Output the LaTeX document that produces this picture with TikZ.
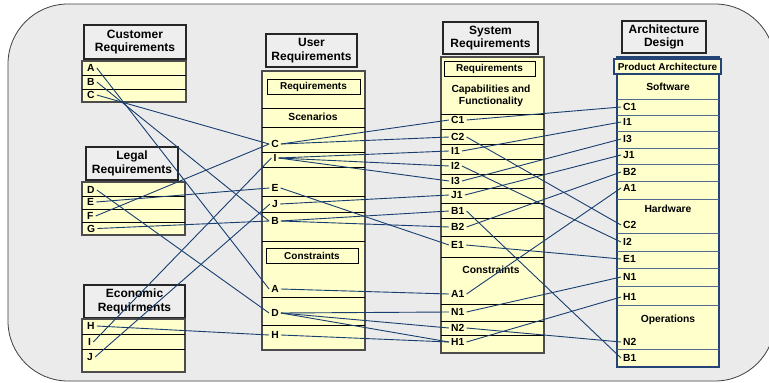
\documentclass[tikz,border=0pt]{standalone}
\usepackage{fontspec}
\setmainfont{Liberation Sans}
\definecolor{bggray}{RGB}{235,235,235}
\definecolor{hdrgray}{RGB}{238,238,238}
\definecolor{tblfill}{RGB}{255,255,204}
\definecolor{linkblue}{RGB}{24,62,112}
\definecolor{archblue}{RGB}{36,68,118}
\begin{document}
\begin{tikzpicture}[x=1pt,y=-1pt,
  hdr/.style={draw=black!85, fill=hdrgray, line width=1.1pt, align=center,
    font=\bfseries\fontsize{12}{13.5}\selectfont, inner sep=0pt},
  tbl/.style={draw=black!70, fill=tblfill, line width=1.4pt},
  archtbl/.style={draw=archblue, fill=tblfill, line width=1.3pt},
  rowline/.style={draw=black, line width=0.9pt},
  archrow/.style={draw=archblue!80, line width=0.9pt},
  inbox/.style={draw=black, fill=tblfill, line width=1pt, inner sep=0pt,
    font=\bfseries\fontsize{10}{11}\selectfont},
  sect/.style={font=\bfseries\fontsize{10.3}{12}\selectfont, align=center},
  lbl/.style={font=\bfseries\fontsize{10.3}{11}\selectfont, inner sep=2pt},
  link/.style={draw=linkblue, line width=0.9pt}]
\useasboundingbox (0,0) rectangle (769,383);

% background panel
\draw[fill=bggray, draw=black!75, line width=0.8pt, rounded corners=60pt] (8,4) rectangle (775,381);

% ---------------- Customer requirements
\node[hdr, minimum width=102pt, minimum height=34pt] (hcust) at (135,42) {Customer\\Requirements};
\draw[tbl] (82,61) rectangle (186,102);
\foreach \y in {75,89} \draw[rowline] (82,\y) -- (186,\y);
\node[lbl, anchor=west] (cA) at (85,68) {A};
\node[lbl, anchor=west] (cB) at (85,82) {B};
\node[lbl, anchor=west] (cC) at (85,95) {C};

% ---------------- Legal requirements
\node[hdr, minimum width=92pt, minimum height=33pt] (hlegal) at (132,163.5) {Legal\\Requirements};
\draw[tbl] (82,182) rectangle (185,235);
\foreach \y in {196,209,222} \draw[rowline] (82,\y) -- (185,\y);
\node[lbl, anchor=west] (lD) at (85,190) {D};
\node[lbl, anchor=west] (lE) at (85,202) {E};
\node[lbl, anchor=west] (lF) at (85,216) {F};
\node[lbl, anchor=west] (lG) at (85,228.5) {G};

% ---------------- Economic requirements
\node[hdr, minimum width=101pt, minimum height=33pt] (hecon) at (134.5,301.5) {Economic\\Requirments};
\draw[tbl] (82,319) rectangle (185,372);
\foreach \y in {334,349} \draw[rowline] (82,\y) -- (185,\y);
\node[lbl, anchor=west] (eH) at (85,326) {H};
\node[lbl, anchor=west] (eI) at (86,342) {I};
\node[lbl, anchor=west] (eJ) at (85,357) {J};

% ---------------- User requirements
\node[hdr, minimum width=91pt, minimum height=33pt] (huser) at (311.5,50.5) {User\\Requirements};
\draw[tbl] (262,71) rectangle (365,350);
\foreach \y in {108,127,152,167,196,212,241,297,325} \draw[rowline] (262,\y) -- (365,\y);
\node[inbox, minimum width=93pt, minimum height=15pt] (ureq) at (313.5,86.5) {Requirements};
\node[sect] (uscen) at (313,117) {Scenarios};
\node[inbox, minimum width=92pt, minimum height=15pt] (ucons) at (312,255.5) {Constraints};
\node[lbl] (uC) at (275,144) {C};
\node[lbl] (uI) at (275,158) {I};
\node[lbl] (uE) at (275,188) {E};
\node[lbl] (uJ) at (275,204) {J};
\node[lbl] (uB) at (275,221) {B};
\node[lbl] (uA) at (275,289) {A};
\node[lbl] (uD) at (275,313) {D};
\node[lbl] (uH) at (275,335) {H};

% ---------------- System requirements
\node[hdr, minimum width=95pt, minimum height=32pt] (hsys) at (490.5,38) {System\\Requirements};
\draw[tbl] (441,57) rectangle (544,353);
\foreach \y in {114,129,144,159,174,188,203,218,236,257,304,321,335} \draw[rowline] (441,\y) -- (544,\y);
\node[inbox, minimum width=91pt, minimum height=15pt] (sreq) at (489.5,68.5) {Requirements};
\node[sect] (scap) at (491,96) {Capabilities and\\Functionality};
\node[sect] (scons) at (491,270) {Constraints};
\node[lbl, anchor=west] (sC1) at (449,120) {C1};
\node[lbl, anchor=west] (sC2) at (449,137) {C2};
\node[lbl, anchor=west] (sI1) at (449,151) {I1};
\node[lbl, anchor=west] (sI2) at (449,166) {I2};
\node[lbl, anchor=west] (sI3) at (449,181) {I3};
\node[lbl, anchor=west] (sJ1) at (449,195) {J1};
\node[lbl, anchor=west] (sB1) at (449,211) {B1};
\node[lbl, anchor=west] (sB2) at (449,227) {B2};
\node[lbl, anchor=west] (sE1) at (449,245) {E1};
\node[lbl, anchor=west] (sA1) at (449,294) {A1};
\node[lbl, anchor=west] (sN1) at (449,312) {N1};
\node[lbl, anchor=west] (sN2) at (449,328) {N2};
\node[lbl, anchor=west] (sH1) at (449,342) {H1};

% ---------------- Architecture design
\node[hdr, minimum width=84pt, minimum height=32pt] (harch) at (664,37) {Architecture\\Design};
\draw[archtbl] (617,57) rectangle (719,367);
\foreach \y in {99,115,131,148,164,181,199,233,251,268,286,305,349} \draw[archrow] (617,\y) -- (719,\y);
\node[draw=archblue, fill=tblfill, line width=1.1pt, inner sep=0pt,
  font=\bfseries\fontsize{10}{11}\selectfont, minimum width=107pt, minimum height=15pt]
  (aprod) at (667.5,66.5) {Product Architecture};
\node[sect] (asoft) at (668,87) {Software};
\node[sect] (ahard) at (668,209) {Hardware};
\node[sect] (aops) at (668,320) {Operations};
\node[lbl, anchor=west] (aC1) at (621,107) {C1};
\node[lbl, anchor=west] (aI1) at (621,122) {I1};
\node[lbl, anchor=west] (aI3) at (621,139) {I3};
\node[lbl, anchor=west] (aJ1) at (621,155) {J1};
\node[lbl, anchor=west] (aB2) at (621,172) {B2};
\node[lbl, anchor=west] (aA1) at (621,188) {A1};
\node[lbl, anchor=west] (aC2) at (621,225) {C2};
\node[lbl, anchor=west] (aI2) at (621,242) {I2};
\node[lbl, anchor=west] (aE1) at (621,259) {E1};
\node[lbl, anchor=west] (aN1) at (621,277) {N1};
\node[lbl, anchor=west] (aH1) at (621,297) {H1};
\node[lbl, anchor=west] (aN2) at (621,342) {N2};
\node[lbl, anchor=west] (aB1) at (621,358) {B1};

% ---------------- traceability links: sources -> user requirements
\draw[link] (cA.east) -- (uA.west);
\draw[link] (cB.east) -- (uB.west);
\draw[link] (cC.east) -- (uC.west);
\draw[link] (lD.east) -- (uD.west);
\draw[link] (lE.east) -- (uE.west);
\draw[link] (lF.east) -- (uC.west);
\draw[link] (lG.east) -- (uB.west);
\draw[link] (eH.east) -- (uH.west);
\draw[link] (eI.east) -- (uI.west);
\draw[link] (eJ.east) -- (uJ.west);

% user requirements -> system requirements
\draw[link] (uC.east) -- (sC1.west);
\draw[link] (uC.east) -- (sC2.west);
\draw[link] (uI.east) -- (sI1.west);
\draw[link] (uI.east) -- (sI2.west);
\draw[link] (uI.east) -- (sI3.west);
\draw[link] (uE.east) -- (sE1.west);
\draw[link] (uJ.east) -- (sJ1.west);
\draw[link] (uB.east) -- (sB1.west);
\draw[link] (uB.east) -- (sB2.west);
\draw[link] (uA.east) -- (sA1.west);
\draw[link] (uD.east) -- (sN1.west);
\draw[link] (uD.east) -- (sN2.west);
\draw[link] (uD.east) -- (sH1.west);
\draw[link] (uH.east) -- (sH1.west);

% system requirements -> architecture
\draw[link] (sC1.east) -- (aC1.west);
\draw[link] (sC2.east) -- (aC2.west);
\draw[link] (sI1.east) -- (aI1.west);
\draw[link] (sI2.east) -- (aI2.west);
\draw[link] (sI3.east) -- (aI3.west);
\draw[link] (sJ1.east) -- (aJ1.west);
\draw[link] (sB1.east) -- (aB1.west);
\draw[link] (sB2.east) -- (aB2.west);
\draw[link] (sE1.east) -- (aE1.west);
\draw[link] (sA1.east) -- (aA1.west);
\draw[link] (sN1.east) -- (aN1.west);
\draw[link] (sN2.east) -- (aN2.west);
\draw[link] (sH1.east) -- (aH1.west);
\end{tikzpicture}
\end{document}
